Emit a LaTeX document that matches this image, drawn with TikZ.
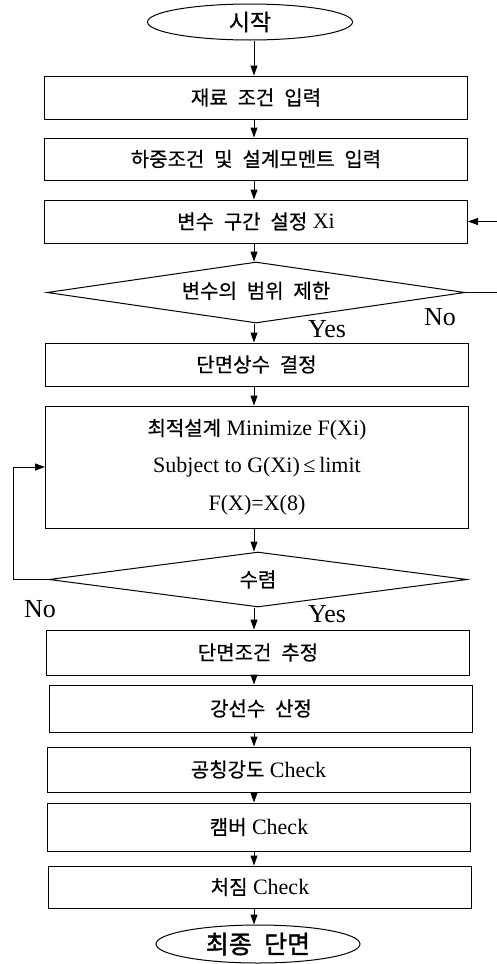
\documentclass[tikz,border=0pt]{standalone}
\usepackage{fontspec}
\setmainfont{Liberation Serif}
\newfontfamily\kr{Noto Sans CJK KR}[WordSpace=2.2,FakeBold=0.5]
\newfontfamily\krb{Noto Sans CJK KR}[WordSpace=2.2,FakeBold=1.5]
\usetikzlibrary{shapes.geometric,arrows.meta}
\newcommand\latf{\fontsize{22}{26}\selectfont}
\newcommand\krf{\kr\fontsize{20}{24}\selectfont}
\newcommand\krt{\kr\fontsize{23}{28}\selectfont}
\begin{document}
\begin{tikzpicture}[x=1pt,y=-1pt,
  line width=1pt,
  box/.style={draw, line width=1pt, minimum width=423pt, inner sep=0pt, font=\latf},
  term/.style={draw, ellipse, line width=1pt, minimum width=205pt, minimum height=36pt, inner sep=0pt},
  decide/.style={draw, diamond, line width=1pt, minimum width=418pt, inner sep=0pt},
  arr/.style={-{Triangle[length=10pt,width=7pt]}, line width=1pt},
  lbl/.style={font=\fontsize{26}{30}\selectfont, anchor=base, inner sep=0pt}
]
\useasboundingbox (0,0) rectangle (496,964);
\coordinate (ax) at (254,0);

\node[term] (s) at (250,22) {\krt 시작};
\node[box, minimum height=43pt] (b1) at (256,97.5) {\krf 재료 조건 입력};
\node[box, minimum height=42pt] (b2) at (256,159) {\krf 하중조건 및 설계모멘트 입력};
\node[box, minimum height=43pt] (b3) at (256,221.5) {{\krf 변수 구간 설정} Xi};
\node[decide, aspect=6.85, minimum height=61pt] (d1) at (256,292.5) {\raisebox{5pt}{\krf 변수의 범위 제한}};
\node[box, minimum height=43pt] (b4) at (256.5,364.5) {\krf 단면상수 결정};
\node[box, minimum height=122pt, align=center] (b5) at (257,467)
  {{\krf 최적설계} Minimize F(Xi)\\[11.5pt]
   Subject to G(Xi)\,≤\,limit\\[11.5pt]
   F(X)=X(8)};
\node[decide, aspect=7.6, minimum height=55pt] (d2) at (258,579.5) {\krf 수렴};
\node[box, minimum height=45pt] (b6) at (258,652.5) {\krf 단면조건 추정};
\node[box, minimum height=47pt] (b7) at (261,708.5) {\krf 강선수 산정};
\node[box, minimum height=45pt] (b8) at (258.5,769.5) {{\krf 공칭강도} Check};
\node[box, minimum height=48pt] (b9) at (259,827) {{\krf 캠버} Check};
\node[box, minimum height=42pt] (b10) at (260,887) {{\krf 처짐} Check};
\node[term, minimum width=204pt, minimum height=38pt] (e) at (258,944) {\krb\fontsize{25}{30}\selectfont 최종 단면};

\draw[arr] (s.south -| ax) -- (b1.north -| ax);
\draw[arr] (b1.south -| ax) -- (b2.north -| ax);
\draw[arr] (b2.south -| ax) -- (b3.north -| ax);
\draw[arr] (b3.south -| ax) -- (d1.north -| ax);
\draw[arr] (d1.south -| ax) -- (b4.north -| ax);
\draw[arr] (b4.south -| ax) -- (b5.north -| ax);
\draw[arr] (b5.south -| ax) -- (d2.north -| ax);
\draw[arr] (d2.south -| ax) -- (b6.north -| ax);
\draw[arr] (b6.south -| ax) -- (b7.north -| ax);
\draw[arr] (b7.south -| ax) -- (b8.north -| ax);
\draw[arr] (b8.south -| ax) -- (b9.north -| ax);
\draw[arr] (b9.south -| ax) -- (b10.north -| ax);
\draw[arr] (b10.south -| ax) -- (e.north -| ax);

\coordinate (rx) at (506,0);
\coordinate (lx) at (13,0);
\draw[arr] (d1.east) -- (d1.east -| rx) |- (b3.east);
\draw[arr] (d2.west) -- (d2.west -| lx) |- (b5.west);

\node[lbl] (no1) at (440,325) {No};
\node[lbl] (yes1) at (327,337) {Yes};
\node[lbl] (no2) at (40,617) {No};
\node[lbl] (yes2) at (327,622) {Yes};
\end{tikzpicture}
\end{document}
